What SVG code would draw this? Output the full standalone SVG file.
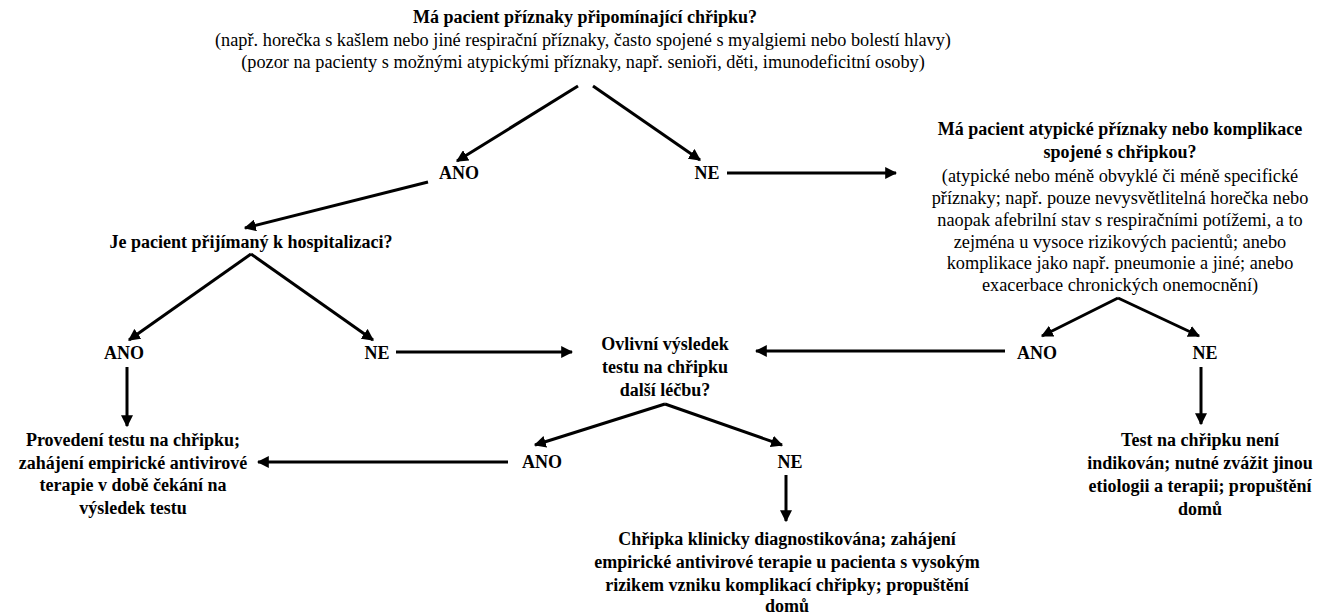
<svg xmlns="http://www.w3.org/2000/svg" width="1333" height="614" viewBox="0 0 1333 614">
<defs>
<marker id="ah" viewBox="0 0 10 10" refX="9" refY="5" markerWidth="4" markerHeight="4" orient="auto" markerUnits="strokeWidth">
<path d="M0,0 L10,5 L0,10 z" fill="#000"/>
</marker>
<style>
.b{font-family:"Liberation Serif","Times New Roman",serif;font-weight:bold;font-size:18px;fill:#000;text-anchor:middle}
.r{font-family:"Liberation Serif","Times New Roman",serif;font-size:18.3px;fill:#000;text-anchor:middle}
.c{stroke:#000;stroke-width:3;fill:none;marker-end:url(#ah)}
</style>
</defs>
<rect width="1333" height="614" fill="#fff"/>
<g id="q1">
<text class="b" x="585" y="23">Má pacient příznaky připomínající chřipku?</text>
<text class="r" x="583" y="46">(např. horečka s kašlem nebo jiné respirační příznaky, často spojené s myalgiemi nebo bolestí hlavy)</text>
<text class="r" x="583" y="68">(pozor na pacienty s možnými atypickými příznaky, např. senioři, děti, imunodeficitní osoby)</text>
</g>
<g id="q1-ano"><text class="b" x="459" y="179">ANO</text></g>
<g id="q1-ne"><text class="b" x="707" y="179">NE</text></g>
<g id="q2">
<text class="b" x="1120" y="135">Má pacient atypické příznaky nebo komplikace</text>
<text class="b" x="1120" y="158">spojené s chřipkou?</text>
<text class="r" x="1120" y="182">(atypické nebo méně obvyklé či méně specifické</text>
<text class="r" x="1120" y="204">příznaky; např. pouze nevysvětlitelná horečka nebo</text>
<text class="r" x="1120" y="226">naopak afebrilní stav s respiračními potížemi, a to</text>
<text class="r" x="1120" y="248">zejména u vysoce rizikových pacientů; anebo</text>
<text class="r" x="1120" y="269">komplikace jako např. pneumonie a jiné; anebo</text>
<text class="r" x="1120" y="291">exacerbace chronických onemocnění)</text>
</g>
<g id="q3"><text class="b" x="251" y="248">Je pacient přijímaný k hospitalizaci?</text></g>
<g id="q3-ano"><text class="b" x="124" y="359">ANO</text></g>
<g id="q3-ne"><text class="b" x="377" y="359">NE</text></g>
<g id="q4">
<text class="b" x="665" y="350">Ovlivní výsledek</text>
<text class="b" x="665" y="373">testu na chřipku</text>
<text class="b" x="665" y="396">další léčbu?</text>
</g>
<g id="q2-ano"><text class="b" x="1037" y="359">ANO</text></g>
<g id="q2-ne"><text class="b" x="1205" y="359">NE</text></g>
<g id="r-test">
<text class="b" x="133" y="446">Provedení testu na chřipku;</text>
<text class="b" x="133" y="469">zahájení empirické antivirové</text>
<text class="b" x="133" y="491">terapie v době čekání na</text>
<text class="b" x="133" y="514">výsledek testu</text>
</g>
<g id="q4-ano"><text class="b" x="542" y="468">ANO</text></g>
<g id="q4-ne"><text class="b" x="790" y="468">NE</text></g>
<g id="r-clin">
<text class="b" x="787" y="545">Chřipka klinicky diagnostikována; zahájení</text>
<text class="b" x="787" y="568">empirické antivirové terapie u pacienta s vysokým</text>
<text class="b" x="787" y="591">rizikem vzniku komplikací chřipky; propuštění</text>
<text class="b" x="787" y="612">domů</text>
</g>
<g id="r-none">
<text class="b" x="1200" y="446">Test na chřipku není</text>
<text class="b" x="1200" y="469">indikován; nutné zvážit jinou</text>
<text class="b" x="1200" y="492">etiologii a terapii; propuštění</text>
<text class="b" x="1200" y="515">domů</text>
</g>
<g id="connectors">
<line class="c" x1="578" y1="86" x2="457" y2="161"/>
<line class="c" x1="593" y1="86" x2="700" y2="160"/>
<line class="c" x1="727" y1="173" x2="896" y2="173"/>
<line class="c" x1="428" y1="182" x2="245" y2="228"/>
<line class="c" x1="251" y1="254" x2="129" y2="340"/>
<line class="c" x1="251" y1="254" x2="373" y2="340"/>
<line class="c" x1="396" y1="352" x2="572" y2="352"/>
<line class="c" x1="1005" y1="351" x2="756" y2="351"/>
<line class="c" x1="1118" y1="298" x2="1042" y2="336"/>
<line class="c" x1="1118" y1="298" x2="1199" y2="336"/>
<line class="c" x1="1201" y1="367" x2="1201" y2="424"/>
<line class="c" x1="127" y1="367" x2="127" y2="426"/>
<line class="c" x1="665" y1="404" x2="535" y2="445"/>
<line class="c" x1="665" y1="404" x2="782" y2="445"/>
<line class="c" x1="508" y1="462" x2="258" y2="462"/>
<line class="c" x1="786" y1="475" x2="786" y2="521"/>
</g>
</svg>
